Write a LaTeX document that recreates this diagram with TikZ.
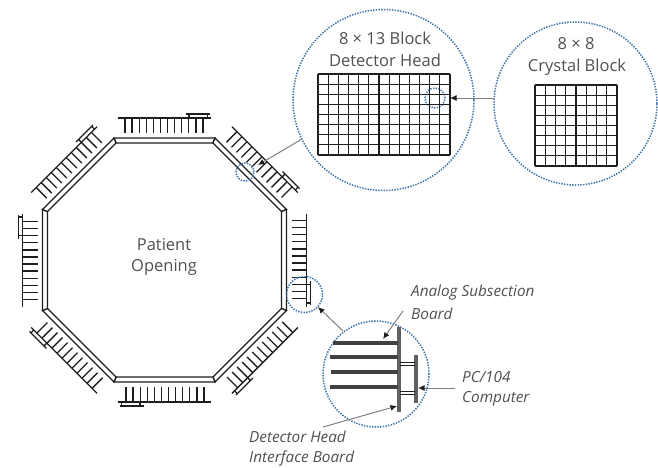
\documentclass[tikz,border=0pt]{standalone}
\usepackage{fontspec}
\setmainfont{Open Sans}
\usetikzlibrary{arrows.meta}
\definecolor{lensblue}{RGB}{60,115,170}
\definecolor{ink}{RGB}{30,30,30}
\definecolor{label}{RGB}{80,80,80}
\tikzset{
  lens/.style={circle,draw=lensblue,line width=1.5pt,dash pattern=on 1.4pt off 1.3pt,inner sep=0pt},
  band/.style={draw=ink,line width=1.3pt,fill=white,line join=miter},
  tooth/.style={draw=ink,line width=1.3pt},
  gridline/.style={draw=ink,line width=1.15pt},
  lead/.style={draw=gray,line width=1pt,-{Latex[length=6.5pt,width=6pt,color=ink]}},
  upright/.style={font=\fontsize{16.5}{16.5}\selectfont,text=label,inner sep=0pt},
  slanted/.style={font=\itshape\fontsize{15.3}{15.3}\selectfont,text=label,inner sep=0pt,anchor=west},
  boardH/.style={draw=ink!85,line width=3.2pt},
  boardV/.style={draw=gray!75!black,line width=4pt},
}
\begin{document}
\begin{tikzpicture}[x=1pt,y=-1pt]
\useasboundingbox (0,0) rectangle (658,467);
% ring of detector heads
\foreach \a in {0,45,...,315}{
  \begin{scope}[shift={(164.5,260)},rotate=-\a]
    \draw[band] (-50.5,-122) -- (50.5,-122) -- (48.5,-117) -- (-48.5,-117) -- cycle;
    \draw[tooth] (-46.5,-142) -- (46.5,-142);
    \foreach \i in {0,...,11}{
      \draw[tooth] ({-39.5+\i*7.09},-142) -- ({-39.5+\i*7.09},-127);
    }
    \draw[tooth] (24.5,-142) -- (24.5,-146) (43,-142) -- (43,-146) (21,-146) -- (45,-146);
  \end{scope}
}
\node[upright] (patient) at (164,245) {Patient};
\node[upright] (opening) at (164,267) {Opening};
% magnifier circles
\node[lens,minimum size=181pt] (headlens) at (383.5,100) {};
\node[lens,minimum size=163pt] (crystallens) at (575.5,103.5) {};
\node[lens,minimum size=20pt] (blockspot) at (435,98) {};
\node[lens,minimum size=18pt] (ringspot) at (245,172) {};
\node[lens,minimum size=36pt] (boardspot) at (304.5,294.5) {};
\node[lens,minimum size=106pt] (boardlens) at (376,374) {};
% block grids
\foreach \i in {0,...,13}{\draw[gridline] ({318+\i*132/13},74) -- ({318+\i*132/13},155);}
\foreach \j in {0,...,8}{\draw[gridline] (318,{74+\j*81/8}) -- (450,{74+\j*81/8});}
\foreach \i in {0,...,8}{\draw[gridline] ({535+\i*82/8},85) -- ({535+\i*82/8},166);}
\foreach \j in {0,...,8}{\draw[gridline] (535,{85+\j*81/8}) -- (617,{85+\j*81/8});}
\node[upright] (headA) at (385,38) {8 × 13 Block};
\node[upright] (headB) at (385,60) {Detector Head};
\node[upright] (crysA) at (576,44) {8 × 8};
\node[upright] (crysB) at (577,67) {Crystal Block};
% boards
\draw[boardV] (399,327) -- (399,412);
\draw[boardV] (416,355) -- (416,403);
\draw[boardH] (333,343) -- (398,343);
\draw[boardH] (330,357) -- (398,357);
\draw[boardH] (331,372) -- (398,372);
\draw[boardH] (330,387) -- (398,387);
\draw[draw=ink,line width=1pt] (400,362.5) -- (415,362.5) (400,365.5) -- (415,365.5)
      (400,391.5) -- (415,391.5) (400,394.5) -- (415,394.5);
% labels
\node[slanted] (analogA) at (411,293) {Analog Subsection};
\node[slanted] (analogB) at (411,314) {Board};
\node[slanted] (pcA) at (462,377) {PC/104};
\node[slanted] (pcB) at (462,399) {Computer};
\node[slanted] (detA) at (249,437) {Detector Head};
\node[slanted] (detB) at (249,458) {Interface Board};
% leader end points
\coordinate (ringtip) at (258,165);
\coordinate (headtail) at (302,139);
\coordinate (analogtail) at (403,311);
\coordinate (analogtip) at (383,339);
\coordinate (pctail) at (455,388);
\coordinate (pctip) at (418,388);
\coordinate (dettail) at (323,427);
\coordinate (dettip) at (397,406);
\coordinate (blocktip) at (450,98);
\coordinate (crystaltail) at (494,98);
\coordinate (lenstail) at (343,331);
\coordinate (spottip) at (318,307);
\draw[lead] (headtail) -- (ringtip);
\draw[lead] (crystaltail) -- (blocktip);
\draw[lead] (lenstail) -- (spottip);
\draw[lead] (analogtail) -- (analogtip);
\draw[lead] (pctail) -- (pctip);
\draw[lead] (dettail) -- (dettip);
\end{tikzpicture}
\end{document}
